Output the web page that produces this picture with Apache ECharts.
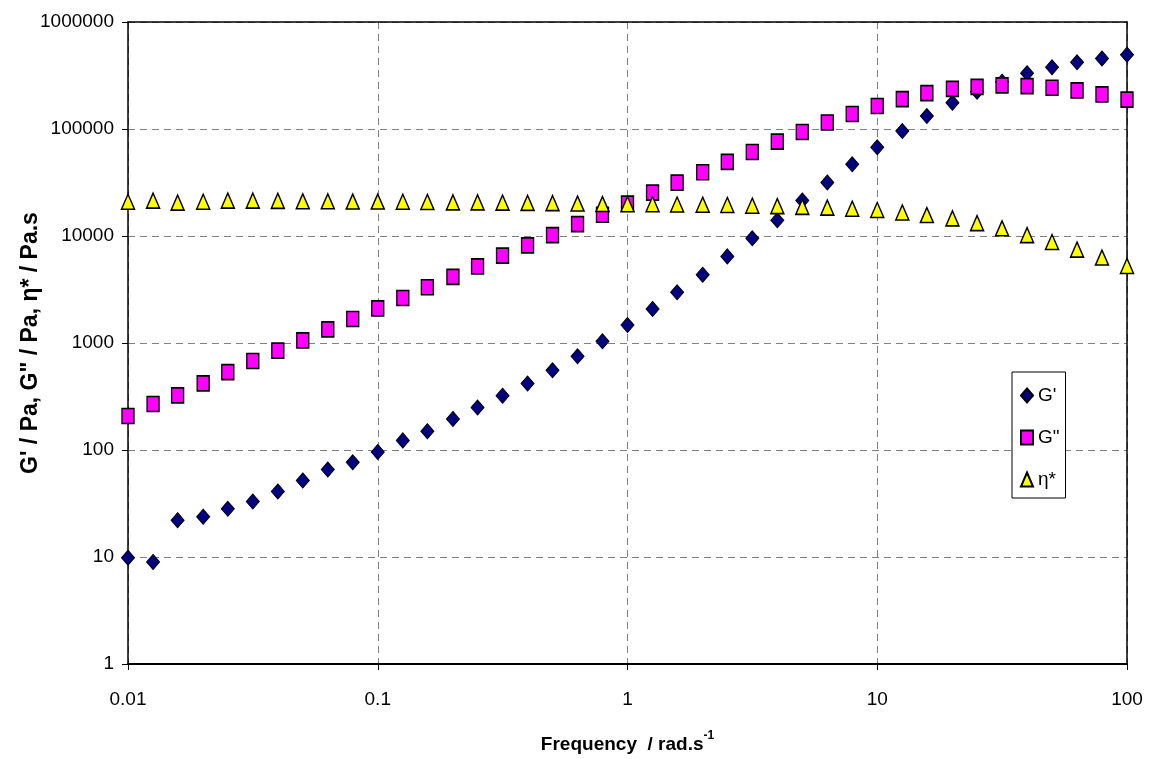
<!DOCTYPE html>
<html>
<head>
<meta charset="utf-8">
<script src="https://cdn.jsdelivr.net/npm/echarts@6/dist/echarts.min.js"></script>
<style>
html,body{margin:0;padding:0;background:#fff;}
#chart{width:1149px;height:759px;}
</style>
</head>
<body>
<div id="chart"></div>
<script>
// Frequency (rad/s), 10 points per decade
const frequency = [0.01, 0.0126, 0.0158, 0.02, 0.0251, 0.0316, 0.0398, 0.0501, 0.0631, 0.0794,
  0.1, 0.126, 0.158, 0.2, 0.251, 0.316, 0.398, 0.501, 0.631, 0.794,
  1, 1.26, 1.58, 2, 2.51, 3.16, 3.98, 5.01, 6.31, 7.94,
  10, 12.6, 15.8, 20, 25.1, 31.6, 39.8, 50.1, 63.1, 79.4, 100];

const gPrime = [9.86, 9.0, 22.1, 23.8, 28.2, 33.0, 41, 52, 65.6, 76.7,
  95.8, 123, 150, 195, 249, 322, 418, 556, 751, 1038,
  1472, 2080, 2980, 4350, 6450, 9520, 14000, 21500, 31700, 46800,
  67400, 95700, 132000, 176000, 223000, 277000, 332000, 377000, 420000, 457000, 495000];

const gDoublePrime = [208, 269, 324, 420, 535, 679, 849, 1060, 1342, 1676,
  2110, 2634, 3317, 4150, 5210, 6560, 8180, 10200, 12900, 15800,
  20100, 25400, 31500, 39400, 49200, 61000, 76200, 93700, 115000, 138000,
  164000, 190000, 216000, 237000, 248000, 256000, 252000, 243000, 230000, 211000, 188000];

const etaStar = [20900, 21400, 20500, 20900, 21400, 21400, 21300, 21100, 21100, 21000,
  21000, 20900, 20800, 20600, 20600, 20500, 20400, 20300, 20100, 19900,
  19800, 19800, 19700, 19600, 19500, 19200, 19000, 18700, 18400, 18000,
  17500, 16600, 15700, 14600, 13200, 11800, 10200, 8790, 7460, 6290, 5250];

const seriesNames = ["G'", 'G"', "η*"];
const xTitle = 'Frequency  / rad.s';
const xTitleSup = '-1';
const yTitle = 'G\' / Pa, G" / Pa, η* / Pa.s';

const FONT = "'Liberation Sans', Arial, sans-serif";

function pairs(ys){ return frequency.map((x,i)=>[x, ys[i]]); }
function fmt(v){ return String(+Number(v).toPrecision(6)); }

const chart = echarts.init(document.getElementById('chart'), null, {renderer:'canvas'});
const gridLine = {show:true, lineStyle:{color:'#808080', type:[7,5], width:1}};
const frameAxis = {
  axisLine:{show:true, onZero:false, lineStyle:{color:'#000', width:1.5}},
  axisTick:{show:false}, axisLabel:{show:false}, splitLine:{show:false}, minorTick:{show:false}
};

chart.setOption({
  backgroundColor:'#fff',
  animation:false,
  grid:{left:128, right:22, top:22, bottom:95, show:false},
  xAxis:[{
    type:'log', logBase:10, min:0.01, max:100,
    axisLine:{show:true, onZero:false, lineStyle:{color:'#000', width:2}},
    axisTick:{show:true, length:6, lineStyle:{color:'#000', width:1}},
    minorTick:{show:false},
    axisLabel:{color:'#000', fontFamily:FONT, fontSize:19, margin:26, formatter:fmt},
    splitLine:gridLine,
    name: '{m|' + xTitle + '}{s|' + xTitleSup + '}',
    nameLocation:'middle', nameGap:66, nameMoveOverlap:false,
    nameTextStyle:{
      rich:{
        m:{fontFamily:FONT, fontWeight:'bold', fontSize:19, color:'#000', lineHeight:24, verticalAlign:'bottom'},
        s:{fontFamily:FONT, fontWeight:'bold', fontSize:12, color:'#000', lineHeight:24, verticalAlign:'top', padding:[0,0,8,0]}
      }
    }
  }, Object.assign({type:'log', logBase:10, min:0.01, max:100, position:'top'}, frameAxis)],
  yAxis:[{
    type:'log', logBase:10, min:1, max:1000000,
    axisLine:{show:true, onZero:false, lineStyle:{color:'#000', width:1.5}},
    axisTick:{show:true, length:6, lineStyle:{color:'#000', width:1}},
    minorTick:{show:false},
    axisLabel:{color:'#000', fontFamily:FONT, fontSize:19, margin:14, formatter:fmt},
    splitLine:gridLine,
    name:yTitle, nameLocation:'middle', nameGap:86, nameMoveOverlap:false,
    nameTextStyle:{fontFamily:FONT, fontWeight:'bold', fontSize:23, color:'#000'}
  }, Object.assign({type:'log', logBase:10, min:1, max:1000000, position:'right'}, frameAxis)],
  legend:{
    orient:'vertical', left:1012, top:372,
    backgroundColor:'#fff', borderColor:'#000', borderWidth:1,
    padding:[14,6,9,8], itemGap:23, itemWidth:12, itemHeight:14,
    textStyle:{fontFamily:FONT, fontSize:19, color:'#000'},
    data:[
      {name:seriesNames[0], icon:'diamond'},
      {name:seriesNames[1], icon:'rect'},
      {name:seriesNames[2], icon:'triangle'}
    ]
  },
  series:[
    {name:seriesNames[0], type:'scatter', data:pairs(gPrime), symbol:'diamond', symbolSize:[13,15], clip:false,
     xAxisIndex:0, yAxisIndex:0,
     itemStyle:{color:'#000080', borderColor:'#000', borderWidth:1, opacity:1}},
    {name:seriesNames[1], type:'scatter', data:pairs(gDoublePrime), symbol:'rect', symbolSize:[12,15], clip:false,
     xAxisIndex:0, yAxisIndex:0,
     itemStyle:{color:'#FF00FF', borderColor:'#000', borderWidth:1.5, opacity:1}},
    {name:seriesNames[2], type:'scatter', data:pairs(etaStar), symbol:'triangle', symbolSize:[13,15], clip:false,
     xAxisIndex:0, yAxisIndex:0,
     itemStyle:{color:'#FFFF00', borderColor:'#000', borderWidth:1.5, opacity:1}}
  ]
});
</script>
</body>
</html>
